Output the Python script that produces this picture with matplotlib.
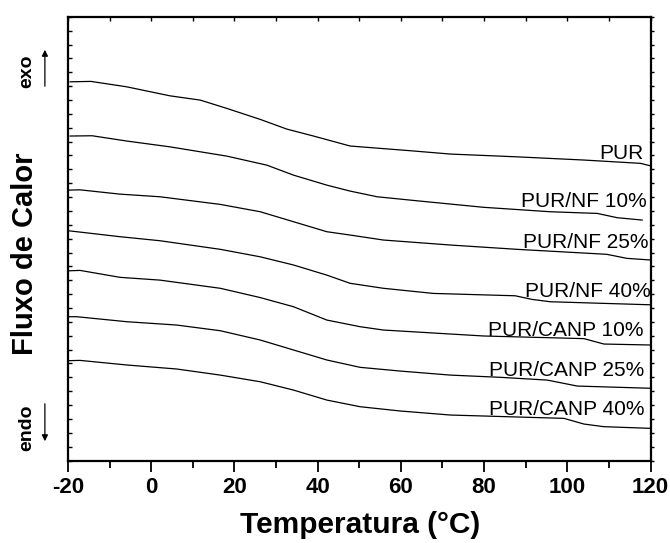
import numpy as np
import matplotlib
matplotlib.use("Agg")
import matplotlib.pyplot as plt
from matplotlib.ticker import MultipleLocator, NullFormatter

plt.rcParams['font.family'] = ['Liberation Sans', 'DejaVu Sans']
plt.rcParams['axes.unicode_minus'] = False

# DSC curves (temperature in C, heat flow in arbitrary offset units)
t_pur = [-19.5, -14.5, -5.9, 4.5, 11.8, 18.2, 26.2, 32.6, 39.0, 47.8, 62.3, 71.9, 87.9, 103.9, 117.6, 120.0]
y_pur = [27.31, 27.34, 26.95, 26.30, 25.99, 25.39, 24.60, 23.90, 23.40, 22.68, 22.34, 22.10, 21.90, 21.67, 21.43, 21.25]

t_nf10 = [-19.5, -14.2, -5.9, 4.5, 18.2, 27.8, 34.2, 42.2, 47.8, 54.3, 63.9, 79.9, 95.9, 107.2, 112.0, 118.0]
y_nf10 = [23.40, 23.42, 23.04, 22.62, 21.95, 21.30, 20.58, 19.86, 19.43, 19.02, 18.73, 18.26, 17.94, 17.82, 17.51, 17.34]

t_nf25 = [-19.9, -17.1, -7.5, 2.1, 16.6, 26.2, 34.2, 42.2, 47.8, 55.8, 71.9, 87.9, 109.5, 114.3, 120.0]
y_nf25 = [19.50, 19.52, 19.21, 19.02, 18.47, 17.94, 17.22, 16.50, 16.26, 15.90, 15.54, 15.23, 14.87, 14.58, 14.46]

t_nf40 = [-19.9, -7.5, 2.1, 16.6, 26.2, 34.2, 42.2, 47.8, 55.8, 67.8, 87.5, 91.5, 95.9, 120.0]
y_nf40 = [16.57, 16.14, 15.85, 15.23, 14.69, 14.10, 13.37, 12.78, 12.42, 12.05, 11.88, 11.62, 11.45, 11.23]

t_canp10 = [-19.9, -17.1, -7.5, 2.1, 16.6, 26.2, 34.2, 42.2, 50.2, 55.8, 79.9, 104.0, 108.8, 120.0]
y_canp10 = [13.68, 13.71, 13.21, 13.01, 12.42, 11.75, 11.09, 10.13, 9.65, 9.41, 8.98, 8.79, 8.40, 8.33]

t_canp25 = [-20.0, -17.9, -5.9, 6.1, 16.6, 26.2, 34.2, 42.2, 50.2, 59.9, 71.9, 83.9, 95.2, 102.4, 120.0]
y_canp25 = [10.37, 10.37, 10.01, 9.77, 9.36, 8.69, 7.97, 7.25, 6.72, 6.45, 6.16, 6.00, 5.80, 5.37, 5.21]

t_canp40 = [-20.0, -17.1, -5.9, 6.1, 16.6, 26.2, 34.2, 42.2, 50.2, 59.9, 71.9, 99.2, 104.0, 108.8, 120.0]
y_canp40 = [7.20, 7.22, 6.89, 6.60, 6.16, 5.68, 5.08, 4.36, 3.88, 3.57, 3.28, 3.04, 2.63, 2.44, 2.32]

curves = [(t_pur, y_pur), (t_nf10, y_nf10), (t_nf25, y_nf25), (t_nf40, y_nf40),
          (t_canp10, y_canp10), (t_canp25, y_canp25), (t_canp40, y_canp40)]

labels = ['PUR', 'PUR/NF 10%', 'PUR/NF 25%', 'PUR/NF 40%',
          'PUR/CANP 10%', 'PUR/CANP 25%', 'PUR/CANP 40%']
label_x = [118.3, 119.0, 119.6, 120.0, 118.2, 118.4, 118.6]
label_y = [21.72, 18.26, 15.30, 11.81, 8.98, 6.09, 3.28]

fig = plt.figure(figsize=(6.7, 5.43), dpi=100)
ax = fig.add_axes([0.1015, 0.1519, 0.8694, 0.8172])

for t, y in curves:
    ax.plot(t, y, color='black', lw=0.9, solid_joinstyle='round')

for lab, lx, ly in zip(labels, label_x, label_y):
    ax.text(lx, ly, lab, ha='right', va='baseline', fontsize=15)

ax.set_xlim(-20, 120)
ax.set_ylim(0, 32)
ax.xaxis.set_major_locator(MultipleLocator(20))
ax.xaxis.set_minor_locator(MultipleLocator(10))
ax.yaxis.set_major_locator(MultipleLocator(1))
ax.yaxis.set_major_formatter(NullFormatter())

for s in ax.spines.values():
    s.set_linewidth(1.6)

ax.tick_params(axis='x', which='major', direction='out', length=8, width=1.3,
               labelsize=16, pad=4, top=False)
ax.tick_params(axis='x', which='minor', direction='out', length=5, width=1.3, top=False)
ax.tick_params(axis='y', which='major', direction='in', length=3, width=1.0, right=False)
for lbl in ax.get_xticklabels():
    lbl.set_fontweight('bold')

# inward ticks on the top edge, outward on the right edge
top = ax.secondary_xaxis('top')
top.set_xticks(np.arange(-20, 121, 10))
top.tick_params(direction='in', length=3, width=1.0, labeltop=False)
top.spines['top'].set_visible(False)
right = ax.secondary_yaxis('right')
right.set_yticks(np.arange(0, 33, 1))
right.tick_params(direction='out', length=2.5, width=1.0, labelright=False)
right.spines['right'].set_visible(False)

fig.text(0.538, 0.033, 'Temperatura (°C)', ha='center', va='center',
         fontsize=21.5, fontweight='bold')
fig.text(0.038, 0.532, 'Fluxo de Calor', ha='center', va='center',
         rotation=90, fontsize=21, fontweight='bold')

fig.text(0.040, 0.869, 'exo', ha='center', va='center', rotation=90,
         fontsize=14, fontweight='bold')
fig.text(0.040, 0.213, 'endo', ha='center', va='center', rotation=90,
         fontsize=14, fontweight='bold')
fig.patches.append(matplotlib.patches.FancyArrowPatch(
    (0.067, 1 - 89 / 543), (0.067, 1 - 47 / 543), transform=fig.transFigure,
    arrowstyle='-|>', mutation_scale=9, lw=0.9, color='black'))
fig.patches.append(matplotlib.patches.FancyArrowPatch(
    (0.067, 1 - 401 / 543), (0.067, 1 - 444 / 543), transform=fig.transFigure,
    arrowstyle='-|>', mutation_scale=9, lw=0.9, color='black'))

fig.savefig('out.png', dpi=100)
